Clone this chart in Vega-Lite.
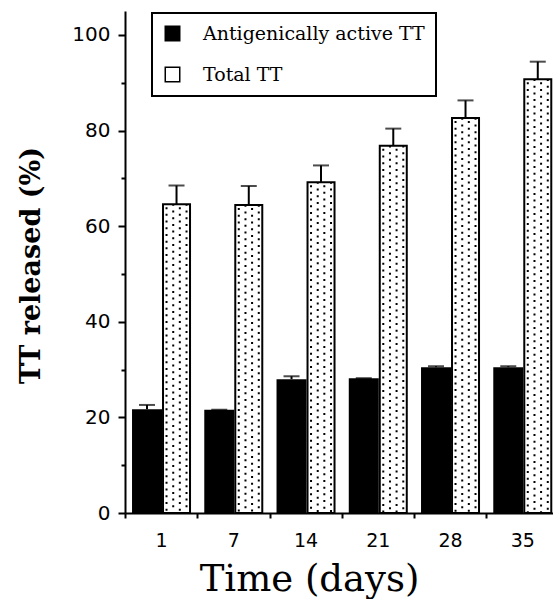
{
  "$schema": "https://vega.github.io/schema/vega-lite/v6.json",
  "width": 433.5,
  "height": 502,
  "autosize": {"type": "none"},
  "padding": {"left": 125, "top": 11, "right": 0, "bottom": 86},
  "background": "white",
  "config": {"view": {"stroke": null}, "font": "DejaVu Sans"},
  "data": {
    "values": [
      {"day": 1, "active": 21.7, "active_hi": 22.6, "total": 64.6, "total_hi": 68.5},
      {"day": 7, "active": 21.6, "active_hi": 21.6, "total": 64.4, "total_hi": 68.4},
      {"day": 14, "active": 28.0, "active_hi": 28.6, "total": 69.2, "total_hi": 72.7},
      {"day": 21, "active": 28.2, "active_hi": 28.2, "total": 76.8, "total_hi": 80.4},
      {"day": 28, "active": 30.5, "active_hi": 30.7, "total": 82.6, "total_hi": 86.3},
      {"day": 35, "active": 30.5, "active_hi": 30.7, "total": 90.7, "total_hi": 94.4}
    ]
  },
  "encoding": {
    "x": {
      "field": "day",
      "type": "ordinal",
      "scale": {"paddingInner": 0, "paddingOuter": 0},
      "axis": {
        "title": "Time (days)",
        "titleFont": "DejaVu Serif",
        "titleFontSize": 37,
        "titleFontWeight": "normal",
        "titleColor": "black",
        "titleAnchor": "start",
        "titleAlign": "center",
        "titleBaseline": "alphabetic",
        "titleX": 184,
        "titleY": 77,
        "labelAngle": 0,
        "labelFont": "DejaVu Sans",
        "labelFontSize": 19,
        "labelColor": "black",
        "labelPadding": 13,
        "tickBand": "extent",
        "tickSize": 5,
        "tickWidth": 2,
        "tickColor": "black",
        "domainColor": "black",
        "domainWidth": 2
      }
    }
  },
  "layer": [
    {
      "mark": {"type": "bar", "width": 30, "xOffset": -14.1},
      "encoding": {
        "y": {
          "field": "active",
          "type": "quantitative",
          "scale": {"domain": [0, 105], "nice": false},
          "axis": {
            "values": [0, 10, 20, 30, 40, 50, 60, 70, 80, 90, 100],
            "labelExpr": "datum.value % 20 === 0 ? datum.label : ''",
            "title": "TT released (%)",
            "titleFont": "DejaVu Serif",
            "titleFontSize": 27,
            "titleFontWeight": "bold",
            "titleColor": "black",
            "titleAngle": 270,
            "titleAlign": "center",
            "titleBaseline": "alphabetic",
            "titleX": -86,
            "titleY": 254,
            "labelFont": "DejaVu Sans",
            "labelFontSize": 20,
            "labelColor": "black",
            "labelPadding": 8,
            "tickSize": {"condition": {"test": "datum.value % 20 === 0", "value": 7}, "value": 4},
            "tickWidth": 2,
            "tickColor": "black",
            "domainColor": "black",
            "domainWidth": 2,
            "grid": false
          }
        },
        "fill": {
          "datum": "Antigenically active TT",
          "scale": {"domain": ["Antigenically active TT", "Total TT"], "range": ["black", "white"]},
          "legend": {
            "title": null,
            "orient": "none",
            "legendX": 27,
            "legendY": 2,
            "strokeColor": "black",
            "padding": 11,
            "rowPadding": 20,
            "labelFont": "DejaVu Serif",
            "labelFontSize": 19,
            "labelColor": "black",
            "labelOffset": 21,
            "labelLimit": 400,
            "symbolType": "square",
            "symbolSize": 210,
            "symbolStrokeColor": "black",
            "symbolStrokeWidth": 1.5,
            "encode": {"legend": {"update": {"strokeWidth": {"value": 2}}}}
          }
        }
      }
    },
    {
      "mark": {"type": "bar", "width": 27, "xOffset": 15.4, "stroke": "black", "strokeWidth": 2},
      "encoding": {
        "y": {"field": "total", "type": "quantitative"},
        "fill": {"datum": "Total TT"}
      }
    },
    {
      "mark": {"type": "rule", "xOffset": 5.4, "color": "black", "strokeWidth": 2, "strokeDash": [2, 4.7], "strokeDashOffset": -3},
      "encoding": {"y": {"field": "total", "type": "quantitative"}, "y2": {"datum": 0}}
    },
    {
      "mark": {"type": "rule", "xOffset": 12.1, "color": "black", "strokeWidth": 2, "strokeDash": [2, 4.7], "strokeDashOffset": -6.35},
      "encoding": {"y": {"field": "total", "type": "quantitative"}, "y2": {"datum": 0}}
    },
    {
      "mark": {"type": "rule", "xOffset": 18.7, "color": "black", "strokeWidth": 2, "strokeDash": [2, 4.7], "strokeDashOffset": -3},
      "encoding": {"y": {"field": "total", "type": "quantitative"}, "y2": {"datum": 0}}
    },
    {
      "mark": {"type": "rule", "xOffset": 25.4, "color": "black", "strokeWidth": 2, "strokeDash": [2, 4.7], "strokeDashOffset": -6.35},
      "encoding": {"y": {"field": "total", "type": "quantitative"}, "y2": {"datum": 0}}
    },
    {
      "mark": {"type": "rule", "xOffset": 15.4, "color": "black", "strokeWidth": 2},
      "encoding": {"y": {"field": "total", "type": "quantitative"}, "y2": {"field": "total_hi"}}
    },
    {
      "mark": {"type": "tick", "xOffset": 15.4, "color": "black", "size": 16, "thickness": 2, "orient": "horizontal"},
      "encoding": {"y": {"field": "total_hi", "type": "quantitative"}}
    },
    {
      "mark": {"type": "rule", "xOffset": -14.1, "color": "black", "strokeWidth": 2},
      "encoding": {"y": {"field": "active", "type": "quantitative"}, "y2": {"field": "active_hi"}}
    },
    {
      "mark": {"type": "tick", "xOffset": -14.1, "color": "black", "size": 16, "thickness": 2, "orient": "horizontal"},
      "encoding": {"y": {"field": "active_hi", "type": "quantitative"}}
    }
  ]
}
